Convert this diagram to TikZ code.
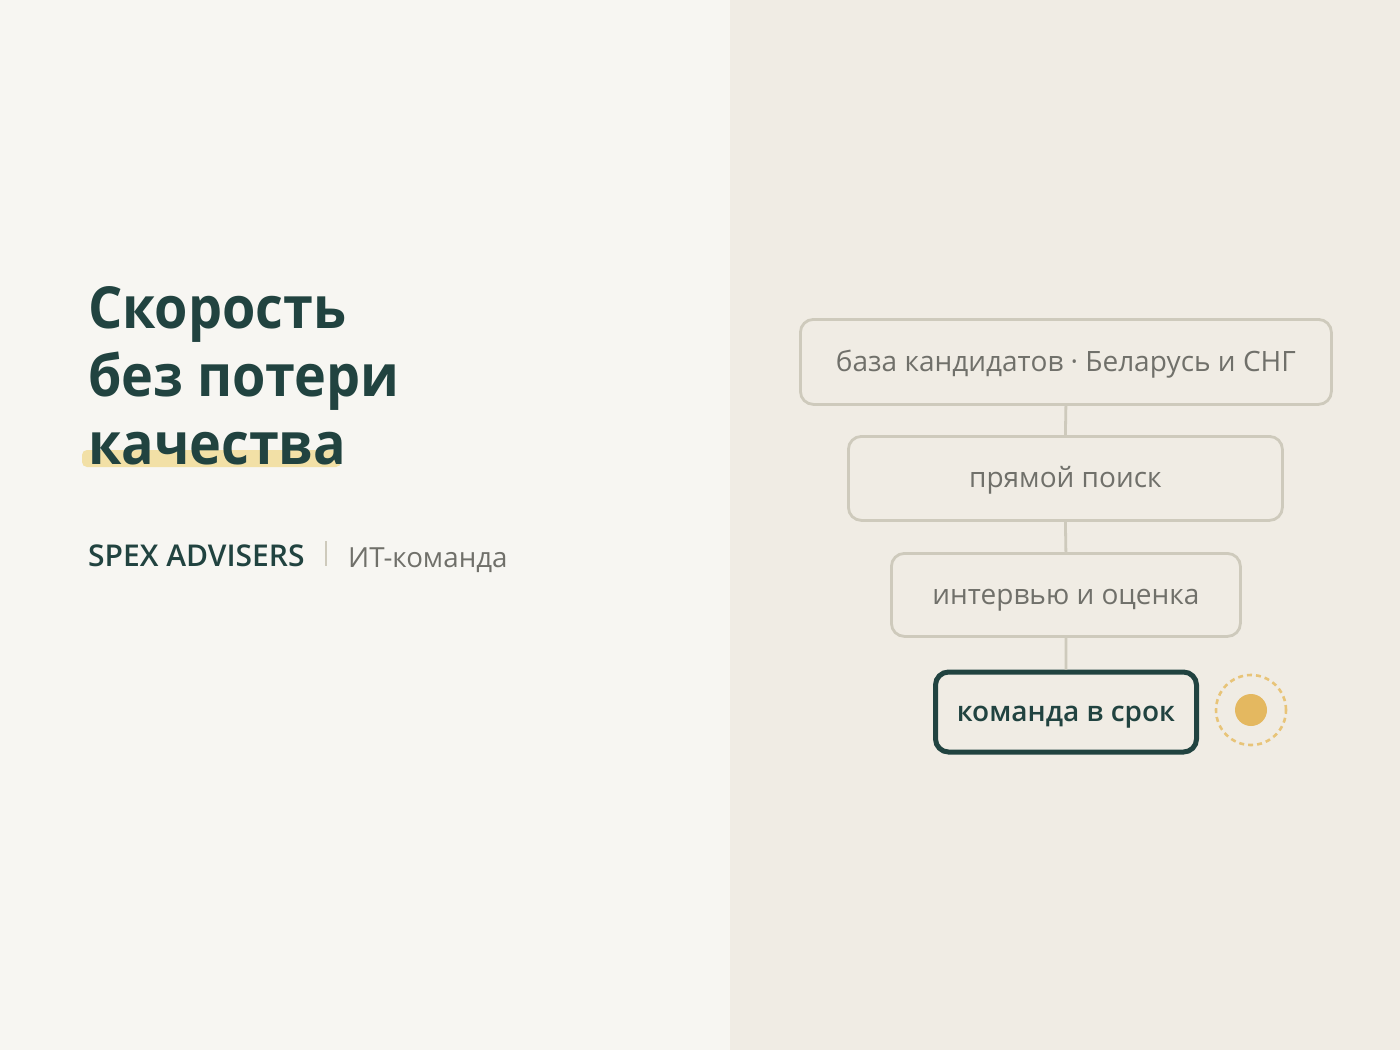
\documentclass[tikz,border=0pt]{standalone}
\usepackage{fontspec}
\setmainfont{Open Sans}
\newfontfamily\headfont{Open Sans}[FakeStretch=0.93]
\usetikzlibrary{positioning}
\definecolor{bgleft}{RGB}{247,246,242}
\definecolor{bgright}{RGB}{240,236,228}
\definecolor{ink}{RGB}{33,67,64}
\definecolor{greytxt}{RGB}{112,112,106}
\definecolor{boxline}{RGB}{206,202,188}
\definecolor{hilite}{RGB}{242,224,166}
\definecolor{gold}{RGB}{228,184,96}
\definecolor{goldlight}{RGB}{232,196,120}
\tikzset{
  x=1pt,y=-1pt,
  stepbox/.style={draw=boxline,line width=2.8pt,rounded corners=13pt,fill=bgright,
    text=greytxt,font=\fontsize{28}{32}\selectfont,inner sep=0pt,anchor=north west,
    text height=19pt,text depth=0pt},
  finalbox/.style={draw=ink,line width=5pt,rounded corners=13pt,fill=bgright,
    text=ink,font=\fontsize{28}{32}\selectfont\fontspec{Open Sans Semibold},inner sep=0pt,anchor=north west,
    text height=19pt,text depth=0pt},
  link/.style={draw=boxline,line width=2.8pt},
  headline/.style={anchor=base west,text=ink,inner sep=0pt,font=\headfont\bfseries\fontsize{58}{68}\selectfont},
}
\begin{document}
\begin{tikzpicture}
\useasboundingbox (0,0) rectangle (1400,1050);
\fill[bgleft] (0,0) rectangle (730,1050);
\fill[bgright] (730,0) rectangle (1400,1050);
% highlight
\fill[hilite,rounded corners=5pt] (82,450) rectangle (341,467);
\node[headline] (h1) at (88,328) {Скорость};
\node[headline] (h2) at (88,396) {без потери};
\node[headline] (h3) at (88,464) {качества};
% brand line
\node[anchor=base west,inner sep=0pt,text=ink,font=\fontsize{30}{32}\selectfont\fontspec{Open Sans Semibold}] (brand) at (88,566) {SPEX ADVISERS};
\coordinate (sepT) at (326,541);
\coordinate (sepB) at (326,566);
\draw[boxline,line width=2pt] (sepT) -- (sepB);
\node[anchor=base west,inner sep=0pt,text=greytxt,font=\fontsize{27.7}{32}\selectfont] (team) at (348,567) {ИТ-команда};
% steps
\node[stepbox,minimum width=531pt,minimum height=85pt] (s1) at (799,318) {база кандидатов · Беларусь и СНГ};
\node[stepbox,minimum width=434pt,minimum height=84pt] (s2) at (847,435) {прямой поиск};
\node[stepbox,minimum width=349pt,minimum height=83pt] (s3) at (890,552) {интервью и оценка};
\node[finalbox,minimum width=261pt,minimum height=80pt] (s4) at (933,669.5) {команда в срок};
\draw[link] (s1.south) -- (s2.north);
\draw[link] (s2.south) -- (s3.north);
\draw[link] (s3.south) -- (s4.north);
% marker
\node[circle,fill=gold,minimum size=32pt,inner sep=0pt] (dot) at (1251,710) {};
\node[circle,draw=goldlight,dashed,dash pattern=on 5pt off 4pt,line width=2.6pt,minimum size=70pt,inner sep=0pt] (ring) at (dot.center) {};
\end{tikzpicture}
\end{document}
